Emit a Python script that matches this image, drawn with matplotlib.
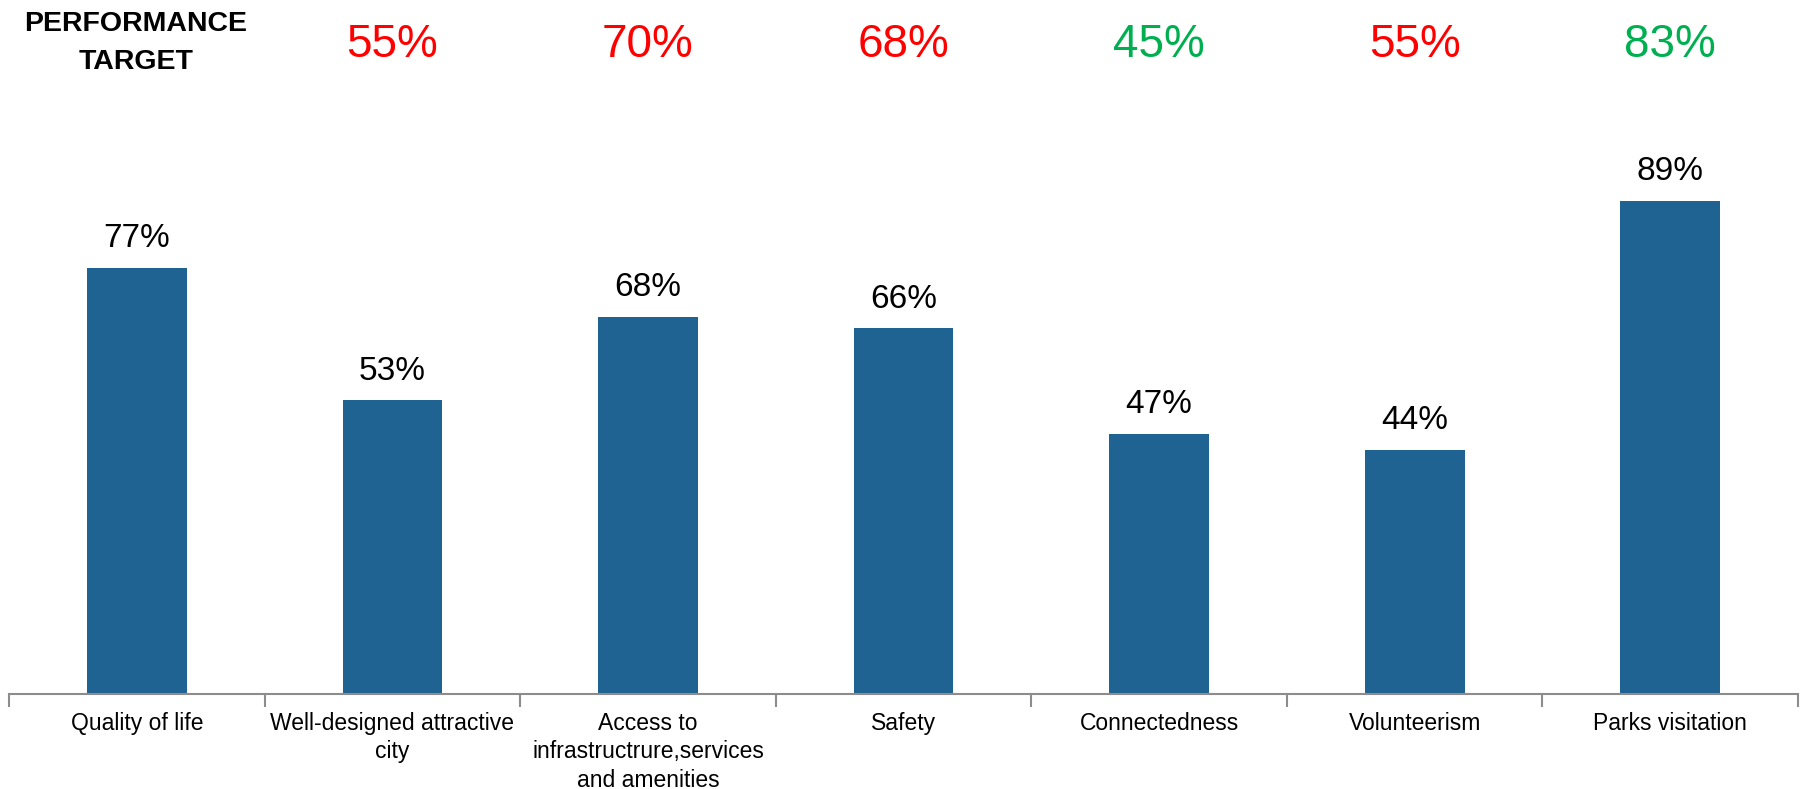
import matplotlib
matplotlib.use("Agg")
import matplotlib.pyplot as plt
from matplotlib import transforms

categories = ["Quality of life", "Well-designed attractive\ncity",
              "Access to\ninfrastructrure,services\nand amenities", "Safety",
              "Connectedness", "Volunteerism", "Parks visitation"]
results = [77, 53, 68, 66, 47, 44, 89]
targets = [None, 55, 70, 68, 45, 55, 83]
target_colors = [None, "#FF0000", "#FF0000", "#FF0000", "#00B050", "#FF0000", "#00B050"]

BAR_COLOR = "#1F6392"
AXIS_COLOR = "#8C8C8C"

fig = plt.figure(figsize=(18.04, 7.89), dpi=100)
ax = fig.add_axes([0.005, 0.1204, 0.9917, 0.702])

x = range(len(categories))
ax.bar(x, results, width=0.39, color=BAR_COLOR, zorder=2)
ax.set_xlim(-0.5, len(categories) - 0.5)
ax.set_ylim(0, 100)

for i, v in enumerate(results):
    ax.annotate(f"{v}%", (i, v), xytext=(0, 10), textcoords="offset points",
                ha="center", va="bottom", fontsize=24, family="Liberation Sans")

# spines / ticks
for s in ["top", "right", "left"]:
    ax.spines[s].set_visible(False)
ax.spines["bottom"].set_color(AXIS_COLOR)
ax.spines["bottom"].set_linewidth(1.5)
ax.set_yticks([])
ax.set_xticks(list(x))
ax.set_xticklabels(categories, fontsize=16.5, family="Liberation Sans",
                   linespacing=1.3, va="top")
ax.tick_params(axis="x", which="major", length=0, pad=13)
ax.set_xticks([i - 0.5 for i in range(len(categories) + 1)], minor=True)
ax.tick_params(axis="x", which="minor", length=9, width=1.5, color=AXIS_COLOR)

# performance target row
trans = transforms.blended_transform_factory(ax.transData, fig.transFigure)
for i, (t, c) in enumerate(zip(targets, target_colors)):
    if t is None:
        continue
    ax.text(i, 0.943, f"{t}%", transform=trans, ha="center", va="center",
            fontsize=33, color=c, family="Liberation Sans")
fig.text(0.0754, 0.946, "PERFORMANCE\nTARGET", ha="center", va="center",
         fontsize=20.5, fontweight="bold", family="Liberation Sans",
         linespacing=1.6)

fig.savefig("out.png", dpi=100)
